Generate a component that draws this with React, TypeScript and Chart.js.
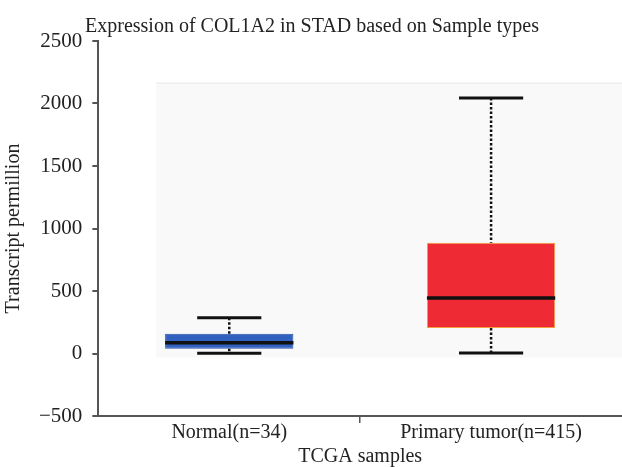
import React, { useEffect, useRef } from "react";
import { Chart, registerables } from "chart.js";

Chart.register(...registerables);

const TITLE = "Expression of COL1A2 in STAD based on Sample types";
const CATEGORIES = ["Normal(n=34)", "Primary tumor(n=415)"];
const WHISKER_MIN = [2, 4];
const Q1 = [38, 204];
const MEDIAN = [86, 444];
const Q3 = [158, 886];
const WHISKER_MAX = [286, 2044];
const BOX_FILL = ["#3060c0", "#ee2b34"];
const BOX_BORDER = ["#2a50a8", "#f2a03a"];
const Y_MIN = -500;
const Y_MAX = 2500;
const Y_STEP = 500;
const BG_X = [-0.28, 1.52];
const BG_Y = [-32, 2168];

const FONT = "'Liberation Serif', 'DejaVu Serif', serif";

const bgPlugin = {
  id: "panelBg",
  beforeDatasetsDraw(chart: any) {
    const { ctx, scales } = chart;
    const x0 = scales.x.getPixelForValue(BG_X[0]);
    const x1 = Math.min(scales.x.getPixelForValue(BG_X[1]), chart.width);
    const y0 = scales.y.getPixelForValue(BG_Y[1]);
    const y1 = scales.y.getPixelForValue(BG_Y[0]);
    ctx.save();
    ctx.fillStyle = "#f9f9f9";
    ctx.fillRect(x0, y0, x1 - x0, y1 - y0);
    ctx.fillStyle = "#efefef";
    ctx.fillRect(x0, y0, x1 - x0, 1.5);
    ctx.restore();
  },
};

const whiskerPlugin = {
  id: "whiskers",
  afterDatasetsDraw(chart: any) {
    const { ctx, scales } = chart;
    const xs = scales.x;
    const ys = scales.y;
    const meta = chart.getDatasetMeta(0);
    CATEGORIES.forEach((_, i) => {
      const cx = xs.getPixelForValue(i);
      const bar = meta.data[i];
      const halfBox = bar.width / 2;
      const halfCap = halfBox * 0.5;
      const yMax = ys.getPixelForValue(WHISKER_MAX[i]);
      const yMin = ys.getPixelForValue(WHISKER_MIN[i]);
      const yQ1 = ys.getPixelForValue(Q1[i]);
      const yQ3 = ys.getPixelForValue(Q3[i]);
      const yMed = ys.getPixelForValue(MEDIAN[i]);
      ctx.save();
      ctx.strokeStyle = "#111";
      ctx.lineWidth = 2.5;
      ctx.setLineDash([2.5, 2]);
      ctx.beginPath();
      ctx.moveTo(cx, yMax);
      ctx.lineTo(cx, yQ3);
      ctx.moveTo(cx, yQ1);
      ctx.lineTo(cx, yMin);
      ctx.stroke();
      ctx.setLineDash([]);
      ctx.lineWidth = 3;
      ctx.beginPath();
      ctx.moveTo(cx - halfCap, yMax);
      ctx.lineTo(cx + halfCap, yMax);
      ctx.moveTo(cx - halfCap, yMin);
      ctx.lineTo(cx + halfCap, yMin);
      ctx.stroke();
      ctx.lineWidth = 3.5;
      ctx.beginPath();
      ctx.moveTo(cx - halfBox, yMed);
      ctx.lineTo(cx + halfBox, yMed);
      ctx.stroke();
      ctx.restore();
    });
  },
};

export default function App() {
  const ref = useRef<HTMLCanvasElement>(null);
  useEffect(() => {
    if (!ref.current) return;
    const chart = new Chart(ref.current, {
      type: "bar",
      data: {
        labels: CATEGORIES,
        datasets: [
          {
            data: CATEGORIES.map((_, i) => [Q1[i], Q3[i]]) as any,
            backgroundColor: BOX_FILL,
            borderColor: BOX_BORDER,
            borderWidth: 1,
            borderSkipped: false,
            barPercentage: 0.49,
            categoryPercentage: 1,
          },
        ],
      },
      options: {
        animation: false,
        responsive: false,
        maintainAspectRatio: false,
        layout: { padding: { left: 2, right: 0, top: 0, bottom: 0 } },
        plugins: {
          legend: { display: false },
          tooltip: { enabled: false },
          title: {
            display: true,
            text: TITLE,
            color: "#222",
            font: { family: FONT, size: 20, weight: "normal" },
            padding: { top: 15, bottom: 2 },
          },
        },
        scales: {
          x: {
            grid: {
              display: true,
              offset: true,
              drawOnChartArea: false,
              tickLength: 7,
              color: (c: any) => (c.index === 1 ? "#555" : "rgba(0,0,0,0)"),
              lineWidth: 1.5,
            },
            border: { display: true, color: "#555", width: 2 },
            ticks: {
              color: "#222",
              font: { family: FONT, size: 20, lineHeight: 1 },
              padding: 0,
              maxRotation: 0,
            },
            title: {
              display: true,
              text: "TCGA samples",
              color: "#222",
              font: { family: FONT, size: 20, lineHeight: 1 },
              padding: { top: 4, bottom: 0 },
            },
          },
          y: {
            min: Y_MIN,
            max: Y_MAX,
            grid: {
              display: true,
              drawOnChartArea: false,
              tickLength: 6,
              color: "#555",
              lineWidth: 2,
            },
            border: { display: true, color: "#555", width: 2 },
            ticks: {
              stepSize: Y_STEP,
              color: "#222",
              font: { family: FONT, size: 21 },
              padding: 10,
              callback: (v: any) => (Number(v) < 0 ? "\u2212" + Math.abs(Number(v)) : String(v)),
            },
            title: {
              display: true,
              text: "Transcript permillion",
              color: "#222",
              font: { family: FONT, size: 20 },
              padding: { top: 0, bottom: 3 },
            },
          },
        },
      },
      plugins: [bgPlugin, whiskerPlugin],
    });
    return () => chart.destroy();
  }, []);
  return (
    <div style={{ position: "fixed", left: 0, top: 0, width: 622, height: 467, background: "#fff" }}>
      <canvas ref={ref} width={622} height={467} style={{ display: "block", width: 622, height: 467 }} />
    </div>
  );
}
